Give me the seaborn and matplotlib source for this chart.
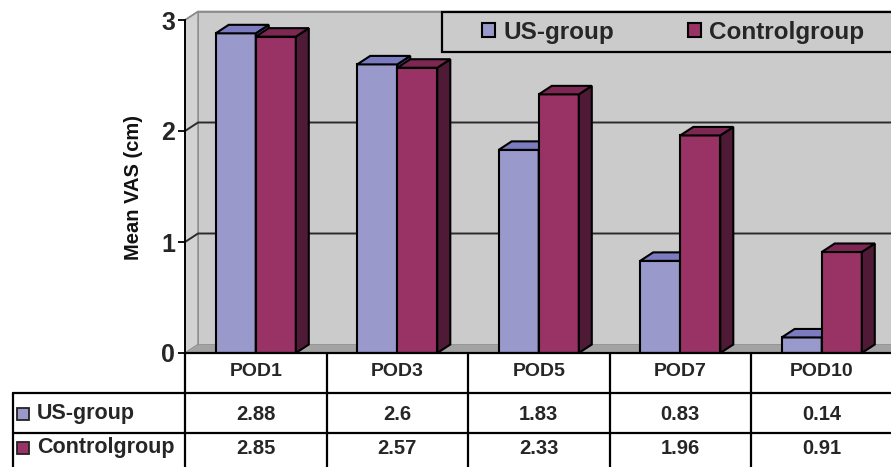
import numpy as np
import pandas as pd
import seaborn as sns
import matplotlib.pyplot as plt
from matplotlib.patches import Polygon, Rectangle

# ---- data -------------------------------------------------------------
days = ["POD1", "POD3", "POD5", "POD7", "POD10"]
groups = ["US-group", "Controlgroup"]
us_group = [2.88, 2.6, 1.83, 0.83, 0.14]
control_group = [2.85, 2.57, 2.33, 1.96, 0.91]
y_ticks = [0, 1, 2, 3]
y_label = "Mean VAS (cm)"

# ---- style ------------------------------------------------------------
sns.set_theme(style="white")
plt.rcParams["font.family"] = ["Liberation Sans", "DejaVu Sans"]
plt.rcParams["font.weight"] = "bold"

US_FRONT, US_TOP, US_SIDE = "#9999cc", "#7b7bc0", "#55558a"
CT_FRONT, CT_TOP, CT_SIDE = "#993366", "#7d2853", "#4f1a36"
WALL, SIDEWALL, FLOOR = "#cbcbcb", "#d2d2d2", "#a3a3a3"
EDGE_LW = 1.5

W, H, DPI = 891, 467, 100
fig = plt.figure(figsize=(W / DPI, H / DPI), dpi=DPI, facecolor="white")

# front-left corner of the floor (pixels from top-left) and scales
X0, Y0 = 185, 353
COL = 141.5   # pixels per category
UNIT = 111.0  # pixels per cm
xmin = -0.5
xmax = xmin + (W - X0) / COL
ytop = 3.12
ax = fig.add_axes([X0 / W, (H - Y0) / H, (W - X0) / W, ytop * UNIT / H])
ax.set_facecolor("none")

# depth of the pseudo-3D projection in data units
DX = 13 / COL
DY = 8.5 / UNIT


def px_x(p):
    return xmin + (p - X0) / COL


def px_y(p):
    return (Y0 - p) / UNIT


df = pd.DataFrame({
    "day": days * 2,
    "vas": us_group + control_group,
    "group": [groups[0]] * len(days) + [groups[1]] * len(days),
})

sns.barplot(data=df, x="day", y="vas", hue="group", order=days,
            hue_order=groups, palette=[US_FRONT, CT_FRONT], saturation=1,
            width=0.566, edgecolor="black", linewidth=EDGE_LW, legend=False,
            ax=ax)
bars = list(ax.patches)

ax.set_xlim(xmin, xmax)
ax.set_ylim(0, ytop)

# walls and floor
ax.add_patch(Rectangle((xmin + DX, DY), 10, 3, facecolor=WALL,
                       edgecolor="#8c8c8c", lw=1.2, zorder=0.5))
ax.add_patch(Polygon([(xmin, 0), (xmin + DX, DY), (xmin + DX, 3 + DY), (xmin, 3)],
                     closed=True, facecolor=SIDEWALL, edgecolor="#8c8c8c",
                     lw=1.0, zorder=0.6))
ax.add_patch(Polygon([(xmin, 0), (xmax + 1, 0), (xmax + 1, DY), (xmin + DX, DY)],
                     closed=True, facecolor=FLOOR, edgecolor="none", zorder=0.6))

# gridlines on the walls
for t in y_ticks[1:-1]:
    ax.plot([xmin, xmin + DX, xmax + 1], [t, t + DY, t + DY],
            color="#2b2b2b", lw=1.4, zorder=0.8, clip_on=False)
ax.plot([xmin, xmin + DX, xmax + 1], [3, 3 + DY, 3 + DY],
        color="#8c8c8c", lw=1.2, zorder=0.8, clip_on=False)

# 3D faces on top of the seaborn bars
n = len(days)
faces = [(US_TOP, US_SIDE, 2.0), (CT_TOP, CT_SIDE, 3.0)]
for i, p in enumerate(bars):
    top_c, side_c, z = faces[i // n]
    p.set_zorder(z)
    x0, w, h = p.get_x(), p.get_width(), p.get_height()
    ax.add_patch(Polygon([(x0, h), (x0 + w, h), (x0 + w + DX, h + DY), (x0 + DX, h + DY)],
                         closed=True, facecolor=top_c, edgecolor="black",
                         lw=EDGE_LW, zorder=z + 0.2))
    ax.add_patch(Polygon([(x0 + w, 0), (x0 + w + DX, DY), (x0 + w + DX, h + DY), (x0 + w, h)],
                         closed=True, facecolor=side_c, edgecolor="black",
                         lw=EDGE_LW, zorder=z + 0.1))

# axes, ticks, label
for s in ["top", "right", "bottom"]:
    ax.spines[s].set_visible(False)
ax.spines["left"].set_bounds(0, 3)
ax.spines["left"].set_color("black")
ax.spines["left"].set_linewidth(1.4)
ax.spines["left"].set_zorder(4)
ax.set_xticks([])
ax.set_xlabel("")
ax.set_yticks(y_ticks)
ax.set_yticklabels([str(t) for t in y_ticks], fontsize=18, fontweight="bold")
ax.tick_params(axis="y", length=5, width=1.3, color="black", pad=2, left=True)
ax.set_ylabel(y_label, fontsize=14.5, fontweight="bold", color="#111111")
ax.yaxis.set_label_coords((143 - X0) / (W - X0), (Y0 - 187.5) / (ytop * UNIT))

# legend box on the back wall
ax.add_patch(Rectangle((px_x(442), px_y(52)), 10, (52 - 12) / UNIT,
                       facecolor=WALL, edgecolor="black", lw=1.6,
                       zorder=5, clip_on=False))
leg = ax.legend(handles=[bars[0], bars[n]], labels=groups,
                ncol=2, frameon=False, fontsize=17.5, handlelength=0.55,
                handleheight=0.55, handletextpad=0.35, columnspacing=3.0,
                loc="center left",
                bbox_to_anchor=((482 - X0) / (W - X0), (Y0 - 32) / (ytop * UNIT)),
                borderaxespad=0, borderpad=0)
leg.set_zorder(6)
for t in leg.get_texts():
    t.set_fontweight("bold")

# data table below the chart
LW = 1.6
line_kw = dict(color="black", lw=LW, clip_on=False, zorder=6)
y_bottom = px_y(480)
ax.plot([xmin, xmax + 1], [0, 0], **line_kw)
for k in range(n + 1):
    ax.plot([xmin + k, xmin + k], [0, y_bottom], **line_kw)
ax.plot([px_x(13), px_x(13)], [px_y(393), y_bottom], **line_kw)
for yy in (393, 433):
    ax.plot([px_x(13), xmax + 1], [px_y(yy), px_y(yy)], **line_kw)

for k, d in enumerate(days):
    ax.text(k, px_y(372), d, ha="center", va="center", fontsize=14,
            fontweight="bold", clip_on=False)
rows = [(groups[0], us_group, US_FRONT, 414), (groups[1], control_group, CT_FRONT, 448)]
for name, vals, col, yc in rows:
    for k, v in enumerate(vals):
        ax.text(k, px_y(yc), f"{v:g}", ha="center", va="center",
                fontsize=14.5, fontweight="bold", clip_on=False)
    s = 12
    ax.add_patch(Rectangle((px_x(17), px_y(yc + s / 2)), s / COL, s / UNIT,
                           facecolor=col, edgecolor="#222222", lw=1.3,
                           clip_on=False, zorder=6))
    ax.text(px_x(37), px_y(yc), name, ha="left", va="center", fontsize=15.5,
            fontweight="bold", clip_on=False)

fig.savefig("out.png", dpi=DPI, facecolor="white")
